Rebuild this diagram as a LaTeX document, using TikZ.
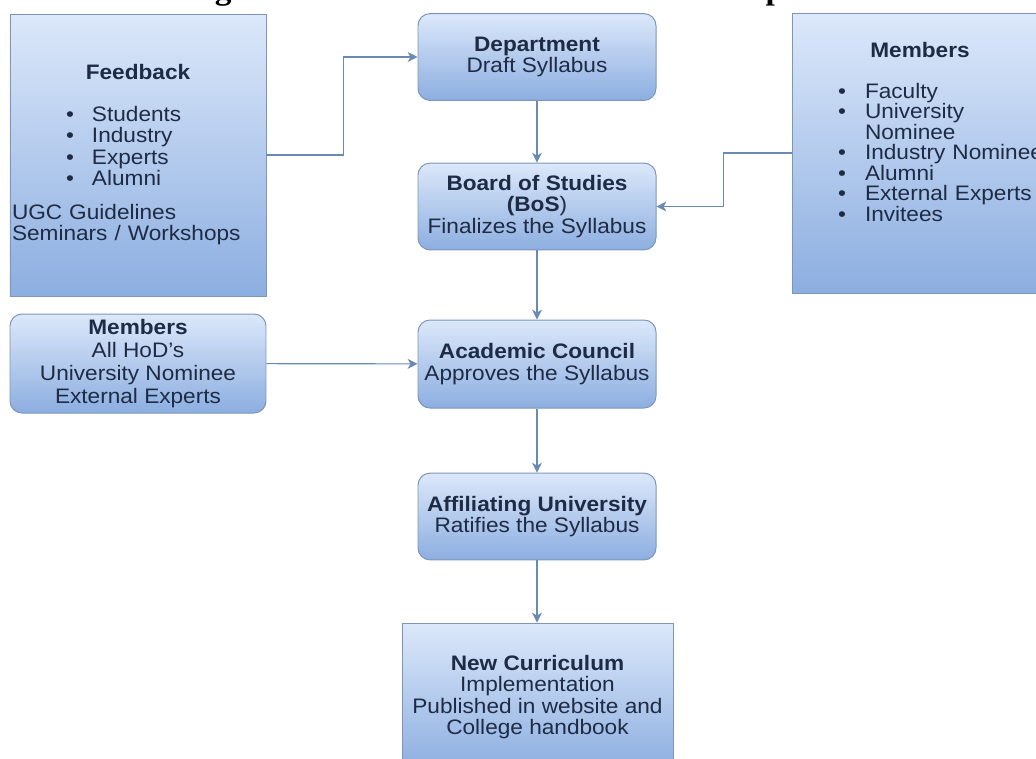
\documentclass[tikz,border=0pt]{standalone}
\usepackage{fontspec}
\setmainfont{Liberation Sans}[FakeStretch=1.08]
\newfontfamily\titlefont{Liberation Serif}[FakeStretch=1.08]
\usetikzlibrary{arrows.meta}

\definecolor{boxtop}{HTML}{DCE8FA}
\definecolor{boxbot}{HTML}{8CAEE0}
\definecolor{boxline}{HTML}{7D95B8}
\definecolor{arrowblue}{HTML}{6A8AB4}
\definecolor{ink}{HTML}{1E2B44}

\tikzset{
  stage/.style={draw=boxline, line width=0.7pt, top color=boxtop, bottom color=boxbot,
    text=ink, inner sep=0pt, font=\fontsize{14.9}{15.3}\selectfont},
  midstage/.style={stage, rounded corners=0.3cm, align=center,
    minimum width=5.95cm, minimum height=2.17cm},
  liststage/.style={stage, text width=6.3cm, inner xsep=0.05cm, minimum height=7.05cm},
  flow/.style={arrowblue, line width=0.8pt, -{Stealth[length=7pt, width=7pt, inset=2pt]}},
  cuttitle/.style={anchor=base, inner sep=0pt, font=\titlefont\bfseries\fontsize{22}{22}\selectfont},
}

\newcommand\fbul{\hspace*{1.35cm}\makebox[0.65cm][l]{\textbullet}}
\newcommand\mbul{\hspace*{1.1cm}\makebox[0.675cm][l]{\textbullet}}

\begin{document}
\begin{tikzpicture}
\useasboundingbox (0,0) rectangle (25.9,-18.95);

% title, cut off by the page
\node[cuttitle] (titleg) at (5.58,0.01) {g};
\node[cuttitle] (titlep) at (19.37,0.01) {p};

% inputs
\node[liststage] (feedback) at (3.45,-3.875) {%
  \centering\textbf{Feedback}\par
  \raggedright\vspace{0.5cm}
  \fbul Students\\
  \fbul Industry\\
  \fbul Experts\\
  \fbul Alumni\par
  \vspace{0.3cm}
  UGC Guidelines\\
  Seminars / Workshops};
\node[liststage, minimum height=7cm, font=\fontsize{14.9}{14.6}\selectfont] (staff) at (23.0,-3.825) {%
  \centering\textbf{Members}\par
  \raggedright\vspace{0.5cm}
  \mbul Faculty\\
  \mbul University\\
  \hspace*{1.775cm}Nominee\\
  \mbul Industry Nominee\\
  \mbul Alumni\\
  \mbul External Experts\\
  \mbul Invitees\par
  \vspace*{1.05cm}};
\node[stage, rounded corners=0.3cm, align=center, minimum width=6.4cm, minimum height=2.475cm,
  font=\fontsize{14.9}{16.3}\selectfont]
  (board) at (3.45,-9.0875) {\textbf{Members}\\All HoD’s\\University Nominee\\External Experts};

% main flow
\node[midstage] (dept) at (13.425,-1.425) {\textbf{Department}\\Draft Syllabus};
\node[midstage] (bos) at (13.425,-5.1625) {\textbf{Board of Studies}\\\textbf{(BoS})\\Finalizes the Syllabus};
\node[midstage, minimum height=2.2cm] (council) at (13.425,-9.1) {\textbf{Academic Council}\\Approves the Syllabus};
\node[midstage] (univ) at (13.425,-12.9125) {\textbf{Affiliating University}\\Ratifies the Syllabus};
\node[stage, align=center, minimum width=6.775cm, minimum height=3.7cm] (curric) at (13.4375,-17.425)
  {\textbf{New Curriculum}\\Implementation\\Published in website and\\College handbook};

\draw[flow] (dept) -- (bos);
\draw[flow] (bos) -- (council);
\draw[flow] (council) -- (univ);
\draw[flow] (univ.south) -- (univ.south |- curric.north);
\draw[flow] (feedback.east) -- ++(1.925,0) |- (dept.west);
\draw[flow] (staff.west) -- ++(-1.7,0) |- (bos.east);
\draw[flow] (board) -- (council);

\end{tikzpicture}
\end{document}
